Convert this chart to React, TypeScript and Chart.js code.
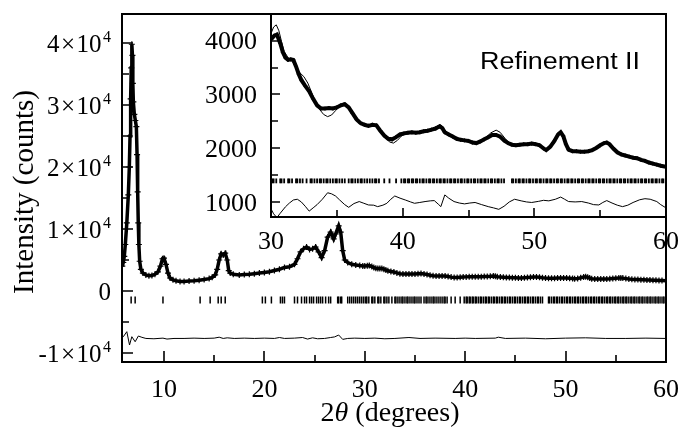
import React, { useEffect, useRef } from "react";
import { Chart, registerables } from "chart.js";
Chart.register(...registerables);

// ---------------- data ----------------
// observed pattern, low angle part (main panel)
const obsThetaLow = [5.85, 5.95, 6.05, 6.15, 6.3, 6.45, 6.55, 6.62, 6.68, 6.74, 6.8, 6.86, 6.9, 6.95, 7.05, 7.15, 7.25, 7.32, 7.38, 7.44, 7.5, 7.58, 7.7, 7.9, 8.2, 8.5, 8.8, 9.1, 9.4, 9.65, 9.85, 10.0, 10.2, 10.4, 10.6, 10.9, 11.2, 11.6, 12.0, 12.5, 13.0, 13.5, 14.0, 14.5, 14.8, 15.1, 15.3, 15.5, 15.7, 15.9, 16.1, 16.3, 16.45, 16.6, 16.9, 17.5, 18.0, 18.5, 19.0, 19.5, 20.0, 20.5, 21.0, 21.5, 22.0, 22.5, 23.0, 23.3, 23.6, 23.9, 24.2, 24.5, 24.8, 25.1, 25.4, 25.7, 26.0, 26.3, 26.6, 26.9, 27.1, 27.4, 27.6, 27.8, 28.0, 28.3, 28.7, 29.1, 29.5, 29.8];
const obsLow = [4000, 4600, 5600, 7500, 11000, 15500, 20000, 25000, 31000, 36000, 39800, 38000, 33500, 30500, 28500, 27500, 26500, 22000, 16000, 11000, 7500, 4800, 3500, 2900, 2600, 2450, 2500, 2700, 3100, 4000, 5200, 5300, 4300, 2900, 2100, 1800, 1650, 1550, 1550, 1600, 1650, 1750, 1850, 2000, 2200, 2600, 3500, 5000, 6000, 5800, 6100, 5000, 3300, 2900, 2700, 2600, 2650, 2700, 2800, 2900, 3000, 3100, 3300, 3500, 3800, 3900, 4300, 5200, 6300, 6800, 7100, 6700, 6800, 7100, 6300, 5400, 6500, 8700, 9500, 8400, 9200, 10500, 9500, 6500, 5000, 4600, 4300, 4200, 4100, 4050];

// observed pattern, 30-60 degrees (inset and main)
const obsThetaHigh = [30.0, 30.25, 30.45, 30.7, 30.9, 31.1, 31.3, 31.5, 31.7, 31.9, 32.1, 32.3, 32.6, 32.9, 33.2, 33.5, 33.8, 34.1, 34.4, 34.7, 35.0, 35.3, 35.6, 35.9, 36.2, 36.5, 36.8, 37.1, 37.4, 37.7, 38.0, 38.3, 38.6, 38.9, 39.2, 39.5, 39.8, 40.1, 40.4, 40.7, 41.0, 41.3, 41.6, 41.9, 42.2, 42.5, 42.8, 43.0, 43.2, 43.5, 43.8, 44.1, 44.4, 44.7, 45.0, 45.3, 45.6, 45.9, 46.2, 46.5, 46.8, 47.1, 47.4, 47.7, 48.0, 48.3, 48.6, 48.9, 49.2, 49.5, 49.8, 50.1, 50.4, 50.7, 50.9, 51.2, 51.5, 51.8, 52.0, 52.2, 52.4, 52.6, 52.9, 53.2, 53.5, 53.8, 54.1, 54.4, 54.7, 55.0, 55.3, 55.5, 55.7, 56.0, 56.3, 56.6, 56.9, 57.2, 57.5, 57.8, 58.1, 58.4, 58.7, 59.0, 59.3, 59.6, 60.0];
const obsHigh = [4020, 4090, 4110, 3950, 3780, 3680, 3640, 3650, 3640, 3520, 3380, 3270, 3160, 3060, 2920, 2800, 2740, 2740, 2750, 2740, 2760, 2800, 2820, 2760, 2650, 2540, 2470, 2440, 2420, 2440, 2430, 2330, 2240, 2180, 2170, 2210, 2260, 2280, 2290, 2300, 2290, 2300, 2320, 2330, 2350, 2370, 2410, 2380, 2300, 2260, 2220, 2180, 2160, 2150, 2140, 2110, 2100, 2130, 2170, 2210, 2250, 2250, 2220, 2150, 2100, 2070, 2060, 2070, 2080, 2080, 2090, 2080, 2060, 2000, 1970, 2030, 2130, 2260, 2300, 2230, 2080, 1980, 1950, 1950, 1940, 1940, 1950, 1970, 2010, 2060, 2100, 2110, 2080, 2000, 1930, 1890, 1870, 1850, 1830, 1820, 1790, 1770, 1740, 1720, 1700, 1680, 1660];

// calculated pattern (inset)
const calcTheta = [30.0, 30.2, 30.4, 30.6, 30.8, 31.0, 31.3, 31.6, 31.9, 32.2, 32.5, 32.8, 33.1, 33.4, 33.7, 34.0, 34.3, 34.6, 34.9, 35.2, 35.5, 35.8, 36.1, 36.4, 36.7, 37.0, 37.4, 37.8, 38.1, 38.4, 38.7, 39.0, 39.3, 39.6, 39.9, 40.2, 40.6, 41.0, 41.4, 41.8, 42.2, 42.6, 42.9, 43.2, 43.5, 43.9, 44.3, 44.7, 45.1, 45.5, 45.9, 46.3, 46.7, 47.1, 47.4, 47.8, 48.2, 48.6, 49.0, 49.5, 50.0, 50.4, 50.8, 51.1, 51.5, 51.8, 52.0, 52.2, 52.5, 52.8, 53.2, 53.7, 54.2, 54.6, 55.0, 55.4, 55.7, 56.0, 56.4, 56.8, 57.3, 57.8, 58.3, 58.8, 59.3, 59.7, 60.0];
const calcValues = [4130, 4250, 4290, 4180, 3980, 3800, 3680, 3620, 3500, 3400, 3330, 3210, 3030, 2850, 2720, 2630, 2590, 2620, 2700, 2790, 2840, 2800, 2690, 2560, 2470, 2440, 2430, 2440, 2420, 2320, 2210, 2120, 2100, 2150, 2230, 2270, 2300, 2290, 2290, 2320, 2360, 2410, 2440, 2340, 2250, 2200, 2170, 2150, 2130, 2110, 2140, 2200, 2290, 2340, 2300, 2180, 2080, 2050, 2070, 2080, 2090, 2060, 1980, 2000, 2110, 2240, 2270, 2220, 2060, 1960, 1940, 1940, 1960, 2000, 2060, 2100, 2090, 2010, 1920, 1870, 1840, 1810, 1780, 1750, 1710, 1680, 1670];

// difference curve (inset, offset)
const diffInsetTheta = [30.0, 30.2, 30.45, 30.7, 31.1, 31.4, 31.7, 32.0, 32.3, 32.6, 32.9, 33.2, 33.5, 33.9, 34.3, 34.6, 34.9, 35.2, 35.6, 35.9, 36.3, 36.7, 37.0, 37.4, 37.8, 38.1, 38.5, 38.8, 39.1, 39.4, 39.8, 40.2, 40.6, 40.9, 41.3, 41.7, 42.1, 42.4, 42.7, 42.9, 43.2, 43.5, 43.9, 44.3, 44.7, 45.1, 45.5, 46.0, 46.5, 46.9, 47.3, 47.7, 48.1, 48.5, 49.0, 49.4, 49.8, 50.3, 50.7, 51.1, 51.6, 52.0, 52.3, 52.6, 53.1, 53.6, 54.1, 54.5, 54.9, 55.2, 55.5, 55.9, 56.3, 56.7, 57.1, 57.5, 58.0, 58.4, 58.8, 59.3, 59.6, 60.0];
const diffInset = [880, 790, 720, 800, 920, 990, 1046, 1060, 1010, 930, 840, 900, 960, 1060, 1180, 1160, 1120, 1050, 960, 910, 980, 1017, 990, 954, 950, 923, 950, 985, 1060, 1120, 1080, 1046, 1010, 985, 1000, 1017, 1030, 1035, 970, 923, 1140, 1080, 1017, 990, 974, 990, 1000, 960, 923, 900, 873, 930, 1010, 1060, 1030, 1010, 1000, 1020, 1040, 1030, 1060, 1100, 1060, 1017, 1010, 1017, 990, 960, 954, 1000, 1035, 990, 950, 923, 950, 1000, 1050, 1070, 1060, 1017, 960, 900];

// difference curve (main panel, offset)
const diffMainTheta = [5.85, 5.95, 6.3, 6.57, 6.8, 7.13, 7.45, 7.8, 8.2, 9.0, 9.9, 10.3, 11.0, 12.0, 13.0, 14.0, 15.0, 15.5, 15.9, 16.3, 17.0, 18.0, 19.0, 20.0, 21.0, 21.5, 22.0, 23.0, 23.8, 24.3, 24.8, 25.3, 26.0, 26.6, 27.0, 27.4, 27.8, 28.3, 29.0, 30.0, 31.0, 32.0, 33.0, 34.4, 35.5, 37.0, 39.0, 40.0, 41.0, 43.0, 43.3, 44.0, 46.0, 48.0, 50.0, 52.0, 54.0, 56.0, 58.0, 60.0];
const diffMain = [-7500, -7370, -6560, -8710, -7370, -8180, -7260, -7470, -7650, -7700, -7600, -7750, -7650, -7650, -7600, -7650, -7600, -7450, -7650, -7550, -7650, -7600, -7650, -7600, -7650, -7500, -7650, -7600, -7500, -7750, -7550, -7700, -7650, -7500, -7400, -7100, -7800, -7650, -7600, -7650, -7600, -7700, -7650, -7500, -7650, -7600, -7650, -7600, -7650, -7600, -7450, -7650, -7600, -7700, -7600, -7550, -7650, -7650, -7600, -7650];

// Bragg reflection positions
const reflections = [
  6.73, 7.13, 9.9, 13.6, 14.6, 15.4, 15.7, 16.1, 19.8, 20.1, 20.7, 21.6, 21.8, 22.0, 23.0, 23.3, 23.7, 24.0, 24.2, 24.5, 24.7, 24.9, 25.2, 25.4, 25.6, 25.8, 26.1, 26.4, 26.6, 27.3, 27.4, 27.6, 27.7, 28.3, 28.5, 28.7, 28.9, 29.1, 29.3, 29.5, 29.7, 29.9,
  30.1, 30.2, 30.4, 30.7, 30.8, 31.0, 31.3, 31.4, 31.6, 31.9, 32.0, 32.2, 32.4, 32.7, 33.0, 33.1, 33.3, 33.5, 33.7, 33.8, 34.0, 34.2, 34.3, 34.5, 34.7, 34.9, 35.0, 35.2, 35.4, 35.6, 35.9, 36.1, 36.2, 36.4, 36.6, 36.8, 36.9, 37.1, 37.3, 37.5, 37.7, 37.9, 38.0, 38.2, 38.6, 39.0, 39.5, 39.9,
  40.1, 40.2, 40.4, 40.5, 40.7, 40.8, 41.0, 41.1, 41.3, 41.5, 41.6, 41.8, 42.0, 42.1, 42.3, 42.4, 42.6, 42.8, 42.9, 43.1, 43.2, 43.4, 43.6, 43.7, 43.9, 44.0, 44.2, 44.4, 44.5, 44.7, 44.9, 45.0, 45.2, 45.4, 45.5, 45.7, 45.9, 46.0, 46.2, 46.3, 46.5, 46.7, 46.8, 47.0, 47.2, 47.3, 47.5, 47.7,
  48.3, 48.4, 48.6, 48.8, 48.9, 49.1, 49.2, 49.4, 49.6, 49.7, 49.9, 50.1, 50.2, 50.4, 50.5, 50.7, 50.9, 51.0, 51.2, 51.3, 51.5, 51.7, 51.8, 52.0, 52.1, 52.3, 52.5, 52.6, 52.8, 52.9, 53.1, 53.3, 53.4, 53.6, 53.7, 53.9, 54.1, 54.2, 54.4, 54.5, 54.7, 54.9, 55.0, 55.2, 55.3, 55.5, 55.7, 55.8, 56.0, 56.1, 56.3, 56.5, 56.6, 56.8, 56.9, 57.1, 57.3, 57.4, 57.6, 57.7, 57.9, 58.1, 58.2, 58.4, 58.5, 58.7, 58.9, 59.0, 59.2, 59.3, 59.5, 59.7, 59.8,
];
const markerLevelMain = -1450;
const markerLevelInset = 1400;

// axes
const mainXMajor = [10, 20, 30, 40, 50, 60];
const mainXMinor = [15, 25, 35, 45, 55];
const mainXLabels = ["10", "20", "30", "40", "50", "60"];
const mainYMajor = [-10000, 0, 10000, 20000, 30000, 40000];
const mainYMinor = [-5000, 5000, 15000, 25000, 35000];
const mainYLabels = ["-1×10^4", "0", "1×10^4", "2×10^4", "3×10^4", "4×10^4"];
const insetXMajor = [30, 40, 50, 60];
const insetXMinor = [35, 45, 55];
const insetXLabels = ["30", "40", "50", "60"];
const insetYMajor = [1000, 2000, 3000, 4000];
const insetYMinor = [1500, 2500, 3500];
const insetYLabels = ["1000", "2000", "3000", "4000"];
const yTitle = "Intensity (counts)";
const xTitleParts = ["2", "θ", " (degrees)"];
const insetTitle = "Refinement II";

// ---------------- helpers ----------------
const SERIF = (px: number, italic = false) => `${italic ? "italic " : ""}${px}px "Liberation Serif", "Times New Roman", serif`;
const SANS = (px: number) => `${px}px "Liberation Sans", Arial, sans-serif`;

const pts = (xs: number[], ys: number[]) => {
  const n = Math.min(xs.length, ys.length);
  const out: { x: number; y: number }[] = [];
  for (let i = 0; i < n; i++) out.push({ x: xs[i], y: ys[i] });
  return out;
};
const level = (xs: number[], v: number, lo = -Infinity) => xs.filter((t) => t >= lo).map((t) => ({ x: t, y: v }));

type Piece = { t: string; font: string; dy?: number };
function drawRun(ctx: CanvasRenderingContext2D, pieces: Piece[], x: number, y: number, align: "left" | "center" | "right", gap = 0, S = 1) {
  ctx.save();
  ctx.textBaseline = "alphabetic";
  ctx.textAlign = "left";
  const widths = pieces.map((p) => {
    ctx.font = p.font;
    return ctx.measureText(p.t).width * S;
  });
  const total = widths.reduce((a, b) => a + b, 0) + gap * (pieces.length - 1);
  let cx = align === "left" ? x : align === "center" ? x - total / 2 : x - total;
  pieces.forEach((p, i) => {
    ctx.save();
    ctx.font = p.font;
    ctx.translate(cx, y + (p.dy || 0));
    ctx.scale(S, 1);
    ctx.fillText(p.t, 0, 0);
    ctx.restore();
    cx += widths[i] + gap;
  });
  ctx.restore();
}

function drawSci(ctx: CanvasRenderingContext2D, label: string, right: number, tickY: number) {
  const [base, exp] = label.split("^");
  const pieces: Piece[] = [];
  const parts = base.split("×");
  const f = SERIF(25);
  if (parts.length === 2) {
    pieces.push({ t: parts[0], font: f }, { t: "×", font: f }, { t: parts[1], font: f });
  } else {
    pieces.push({ t: base, font: f });
  }
  if (exp) pieces.push({ t: exp, font: SERIF(16), dy: -10 });
  drawRun(ctx, pieces, right, tickY + 8.5, "right", 1.5);
}

function tickLines(ctx: CanvasRenderingContext2D, chart: any, xMaj: number[], xMin: number[], yMaj: number[], yMin: number[], lm: number, ln: number) {
  const a = chart.chartArea;
  const xs = chart.scales.x;
  const ys = chart.scales.y;
  ctx.beginPath();
  xMaj.forEach((v) => { const p = Math.round(xs.getPixelForValue(v)); ctx.moveTo(p, a.bottom); ctx.lineTo(p, a.bottom - lm); });
  xMin.forEach((v) => { const p = Math.round(xs.getPixelForValue(v)); ctx.moveTo(p, a.bottom); ctx.lineTo(p, a.bottom - ln); });
  yMaj.forEach((v) => { const p = Math.round(ys.getPixelForValue(v)); ctx.moveTo(a.left, p); ctx.lineTo(a.left + lm, p); });
  yMin.forEach((v) => { const p = Math.round(ys.getPixelForValue(v)); ctx.moveTo(a.left, p); ctx.lineTo(a.left + ln, p); });
  ctx.stroke();
}

const mainDeco = {
  id: "mainDeco",
  afterDraw(chart: any) {
    const { ctx, chartArea: a } = chart;
    const xs = chart.scales.x;
    const ys = chart.scales.y;
    ctx.save();
    ctx.strokeStyle = "#000";
    ctx.fillStyle = "#000";
    ctx.lineWidth = 1.6;
    tickLines(ctx, chart, mainXMajor, mainXMinor, mainYMajor, mainYMinor, 11, 7);
    ctx.lineWidth = 2;
    ctx.strokeRect(a.left, a.top, a.right - a.left, a.bottom - a.top);
    mainXMajor.forEach((v, i) => drawRun(ctx, [{ t: mainXLabels[i], font: SERIF(26) }], xs.getPixelForValue(v), 397, "center"));
    mainYMajor.forEach((v, i) => drawSci(ctx, mainYLabels[i], 111, ys.getPixelForValue(v)));
    // x title with italic theta
    drawRun(ctx, [
      { t: xTitleParts[0], font: SERIF(28) },
      { t: xTitleParts[1], font: SERIF(28, true) },
      { t: xTitleParts[2], font: SERIF(28) },
    ], (a.left + a.right) / 2 - 4, 421, "center");
    // y title
    ctx.save();
    ctx.translate(33, 192);
    ctx.rotate(-Math.PI / 2);
    ctx.font = SERIF(29);
    ctx.textAlign = "center";
    ctx.textBaseline = "alphabetic";
    ctx.fillText(yTitle, 0, 0);
    ctx.restore();
    ctx.restore();
  },
};

const insetDeco = {
  id: "insetDeco",
  beforeDatasetsDraw(chart: any) {
    const { ctx, chartArea: a } = chart;
    ctx.save();
    ctx.fillStyle = "#fff";
    ctx.fillRect(a.left, a.top, a.right - a.left, a.bottom - a.top);
    ctx.restore();
  },
  afterDraw(chart: any) {
    const { ctx, chartArea: a } = chart;
    const xs = chart.scales.x;
    const ys = chart.scales.y;
    ctx.save();
    ctx.strokeStyle = "#000";
    ctx.fillStyle = "#000";
    ctx.lineWidth = 1.6;
    tickLines(ctx, chart, insetXMajor, insetXMinor, insetYMajor, insetYMinor, 9, 7);
    ctx.lineWidth = 2;
    ctx.strokeRect(a.left, a.top, a.right - a.left, a.bottom - a.top);
    insetXMajor.forEach((v, i) => drawRun(ctx, [{ t: insetXLabels[i], font: SERIF(26) }], xs.getPixelForValue(v), 249, "center"));
    insetYMajor.forEach((v, i) => drawRun(ctx, [{ t: insetYLabels[i], font: SERIF(26) }], 257, ys.getPixelForValue(v) + 8.5, "right"));
    drawRun(ctx, [{ t: insetTitle, font: SANS(23) }], 480, 68.5, "left", 0, 1.17);
    ctx.restore();
  },
};

export default function App() {
  const mainRef = useRef<HTMLCanvasElement>(null);
  const insetRef = useRef<HTMLCanvasElement>(null);

  useEffect(() => {
    const obsAll = pts(obsThetaLow.concat(obsThetaHigh), obsLow.concat(obsHigh));
    const calcAll = pts(obsThetaLow.concat(calcTheta), obsLow.concat(calcValues));

    const main = new Chart(mainRef.current as HTMLCanvasElement, {
      type: "scatter",
      data: {
        datasets: [
          {
            label: "observed",
            data: obsAll,
            showLine: true,
            borderColor: "#000",
            borderWidth: 3.5,
            pointStyle: "cross",
            pointRadius: 3,
            pointBorderWidth: 1.2,
            pointBorderColor: "#000",
            pointBackgroundColor: "#000",
          },
          {
            label: "calculated",
            data: calcAll,
            showLine: true,
            borderColor: "#777",
            borderWidth: 1,
            pointRadius: 0,
          },
          {
            label: "difference",
            data: pts(diffMainTheta, diffMain),
            showLine: true,
            borderColor: "#000",
            borderWidth: 1,
            pointRadius: 0,
          },
          {
            label: "reflections",
            data: level(reflections, markerLevelMain),
            showLine: false,
            pointStyle: "line",
            rotation: 90,
            pointRadius: 3.5,
            pointBorderWidth: 1.5,
            pointBorderColor: "#000",
          } as any,
        ],
      },
      options: {
        animation: false,
        responsive: false,
        devicePixelRatio: 1,
        events: [],
        layout: { padding: { left: 122, right: 18, top: 14, bottom: 67 } },
        plugins: { legend: { display: false }, tooltip: { enabled: false } },
        scales: {
          x: { type: "linear", min: 5.82, max: 60, display: false },
          y: { type: "linear", min: -11450, max: 44680, display: false },
        },
      },
      plugins: [mainDeco],
    });

    const inset = new Chart(insetRef.current as HTMLCanvasElement, {
      type: "scatter",
      data: {
        datasets: [
          {
            label: "calculated",
            data: pts(calcTheta, calcValues),
            showLine: true,
            borderColor: "#000",
            borderWidth: 1,
            pointRadius: 0,
          },
          {
            label: "observed",
            data: pts(obsThetaHigh, obsHigh),
            showLine: true,
            borderColor: "#000",
            borderWidth: 4,
            pointStyle: "cross",
            pointRadius: 2,
            pointBorderWidth: 1,
            pointBorderColor: "#000",
          },
          {
            label: "difference",
            data: pts(diffInsetTheta, diffInset),
            showLine: true,
            borderColor: "#000",
            borderWidth: 1,
            pointRadius: 0,
          },
          {
            label: "reflections",
            data: level(reflections, markerLevelInset, 30),
            showLine: false,
            pointStyle: "line",
            rotation: 90,
            pointRadius: 2.4,
            pointBorderWidth: 1.8,
            pointBorderColor: "#000",
          } as any,
        ],
      },
      options: {
        animation: false,
        responsive: false,
        devicePixelRatio: 1,
        events: [],
        layout: { padding: { left: 271, right: 18, top: 14, bottom: 212 } },
        plugins: { legend: { display: false }, tooltip: { enabled: false } },
        scales: {
          x: { type: "linear", min: 30, max: 60, display: false },
          y: { type: "linear", min: 731, max: 4491, display: false },
        },
      },
      plugins: [insetDeco],
    });

    return () => {
      main.destroy();
      inset.destroy();
    };
  }, []);

  const cs: React.CSSProperties = { position: "absolute", left: 0, top: 0, width: 684, height: 429 };
  return (
    <div style={{ position: "fixed", left: 0, top: 0, width: 684, height: 429, background: "#fff" }}>
      <canvas ref={mainRef} width={684} height={429} style={cs} />
      <canvas ref={insetRef} width={684} height={429} style={cs} />
    </div>
  );
}
